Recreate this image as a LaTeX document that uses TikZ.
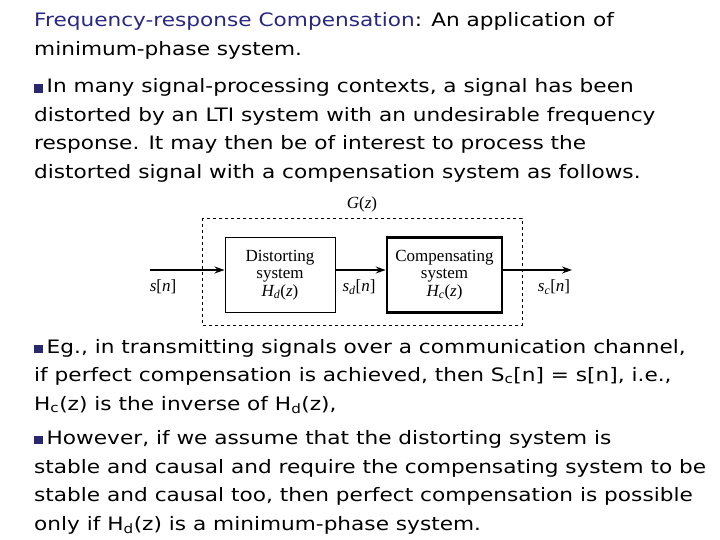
\documentclass[tikz,border=0pt]{standalone}
\usepackage{fontspec}
\setmainfont{DejaVu Sans}[FakeStretch=1.17]
\newfontfamily\dia{Liberation Serif}
\usetikzlibrary{arrows.meta}
\definecolor{ttl}{RGB}{40,40,130}
\definecolor{bul}{RGB}{40,40,110}
\newcommand{\bl}{{\color{bul}\rule{8.5pt}{8.5pt}}\hspace{4pt}}
\newcommand{\mi}[1]{\textit{#1}}
\begin{document}
\begin{tikzpicture}[x=1pt,y=-1pt,
  txt/.style={anchor=base west,inner sep=0,font=\fontsize{18.5}{18}\selectfont},
  blk/.style={draw,minimum width=110pt,minimum height=75pt,align=center,font=\fontsize{17}{17.5}\selectfont\dia,inner sep=1pt},
  sig/.style={font=\fontsize{17}{16}\selectfont\dia,inner sep=0},
  arr/.style={-{Stealth[length=10pt,width=7pt]},line width=1.8pt}]
\useasboundingbox (0,0) rectangle (720,540);
\node[txt] (l1) at (34,27) {{\color{ttl}Frequency-response Compensation}: An application of};
\node[txt] (l2) at (34,56) {minimum-phase system.};
\node[txt] (l3) at (34,93) {\bl In many signal-processing contexts, a signal has been};
\node[txt] (l4) at (34,122) {distorted by an LTI system with an undesirable frequency};
\node[txt] (l5) at (34,150) {response. It may then be of interest to process the};
\node[txt] (l6) at (34,179) {distorted signal with a compensation system as follows.};
\node[txt] (m1) at (34,353) {\bl Eg., in transmitting signals over a communication channel,};
\node[txt] (m2) at (34,381) {if perfect compensation is achieved, then S\textsubscript{c}[n] = s[n], i.e.,};
\node[txt] (m3) at (34,410) {H\textsubscript{c}(z) is the inverse of H\textsubscript{d}(z),};
\node[txt] (m4) at (34,444) {\bl However, if we assume that the distorting system is};
\node[txt] (m5) at (34,473) {stable and causal and require the compensating system to be};
\node[txt] (m6) at (34,501) {stable and causal too, then perfect compensation is possible};
\node[txt] (m7) at (34,530) {only if H\textsubscript{d}(z) is a minimum-phase system.};
% diagram
\draw[dashed,line width=0.8pt] (202,218) rectangle (522,325);
\node[sig] (G) at (362,204) {\mi{G}(\mi{z})};
\node[blk,line width=1pt] (d) at (280,275) {Distorting\\system\\\mi{H\textsubscript{d}}(\mi{z})};
\node[blk,line width=2.6pt,minimum width=115pt] (c) at (444.5,275) {Compensating\\system\\\mi{H\textsubscript{c}}(\mi{z})};
\coordinate (in) at (150,270);
\coordinate (out) at (572,270);
\draw[arr] (in) -- (in-|d.west);
\draw[arr] (d.east|-in) -- (c.west|-in);
\draw[arr] (c.east|-in) -- (out);
\node[sig] (s) at (163,287) {\mi{s}[\mi{n}]};
\node[sig] (sd) at (359,287) {\mi{s\textsubscript{d}}[\mi{n}]};
\node[sig] (sc) at (554,287) {\mi{s\textsubscript{c}}[\mi{n}]};
\end{tikzpicture}
\end{document}
